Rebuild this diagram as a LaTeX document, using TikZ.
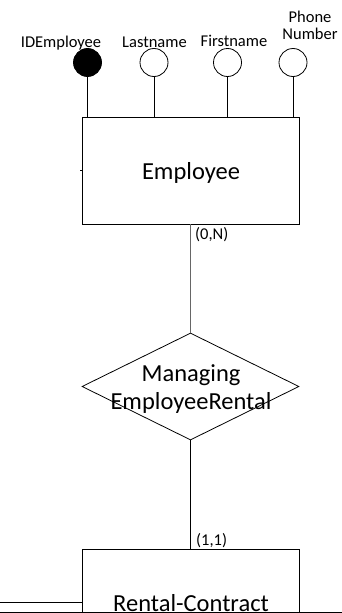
\documentclass[tikz,border=0pt]{standalone}
\usepackage{fontspec}
\setmainfont{Carlito}
\usetikzlibrary{shapes.geometric}
\begin{document}
\begin{tikzpicture}[x=1pt,y=-1pt,
  attr/.style={circle,draw=black,line width=0.8pt,minimum size=28pt,inner sep=0pt},
  key/.style={attr,fill=black},
  alabel/.style={font=\fontsize{16.5}{18}\selectfont,inner sep=0pt,anchor=base},
  entity/.style={draw=black,line width=0.8pt,minimum width=217pt,minimum height=107pt,inner sep=0pt},
  rel/.style={diamond,draw=black,line width=0.8pt,minimum width=217pt,minimum height=107pt,inner sep=0pt},
  big/.style={font=\fontsize{24.5}{28}\selectfont,inner sep=0pt,anchor=base},
  card/.style={font=\fontsize{16.5}{18}\selectfont,inner sep=0pt,anchor=base west},
  conn/.style={draw=black!60,line width=1.1pt},
  stem/.style={draw=black,line width=0.8pt}]
\clip (0,0) rectangle (342,613);
% attributes
\node[key] (a1) at (87.5,62.5) {};
\node[attr] (a2) at (154,62.5) {};
\node[attr] (a3) at (227.5,62.5) {};
\node[attr] (a4) at (293,62.5) {};
\node[alabel] (l1) at (61,47) {IDEmployee};
\node[alabel] (l2) at (154.5,47) {Lastname};
\node[alabel] (l3) at (234,46.5) {Firstname};
\node[alabel] (l4a) at (310,23) {Phone};
\node[alabel] (l4b) at (310,39.5) {Number};
% employee
\node[entity] (emp) at (190.5,170.5) {};
\node[big] (empt) at (191,179) {Employee};
\draw[stem] (emp.west) -- ++(-2,0);
\foreach \a in {a1,a2,a3,a4}{\draw[stem] (\a.south) -- (\a.south |- emp.north);}
% relationship
\node[rel] (rel) at (190.5,386.5) {};
\node[big] (relt1) at (191,381) {Managing};
\node[big] (relt2) at (191,409) {EmployeeRental};
% rental contract
\node[entity,minimum height=120pt] (rc) at (190.5,609) {};
\node[big] (rct) at (191,611) {Rental-Contract};
% connectors
\draw[conn] (emp.south -| rel.north) -- (rel.north);
\draw[stem] (rel.south) -- (rel.south |- rc.north);
\node[card] (c1) at (195,239) {(0,N)};
\node[card] (c2) at (196,545) {(1,1)};
\coordinate (lf) at (0,602);
\draw[stem] (lf) -- (lf -| rc.west);
\coordinate (b0) at (0,612.3);
\coordinate (b1) at (342,612.3);
\draw[line width=1.6pt] (b0) -- (b1);
\end{tikzpicture}
\end{document}
